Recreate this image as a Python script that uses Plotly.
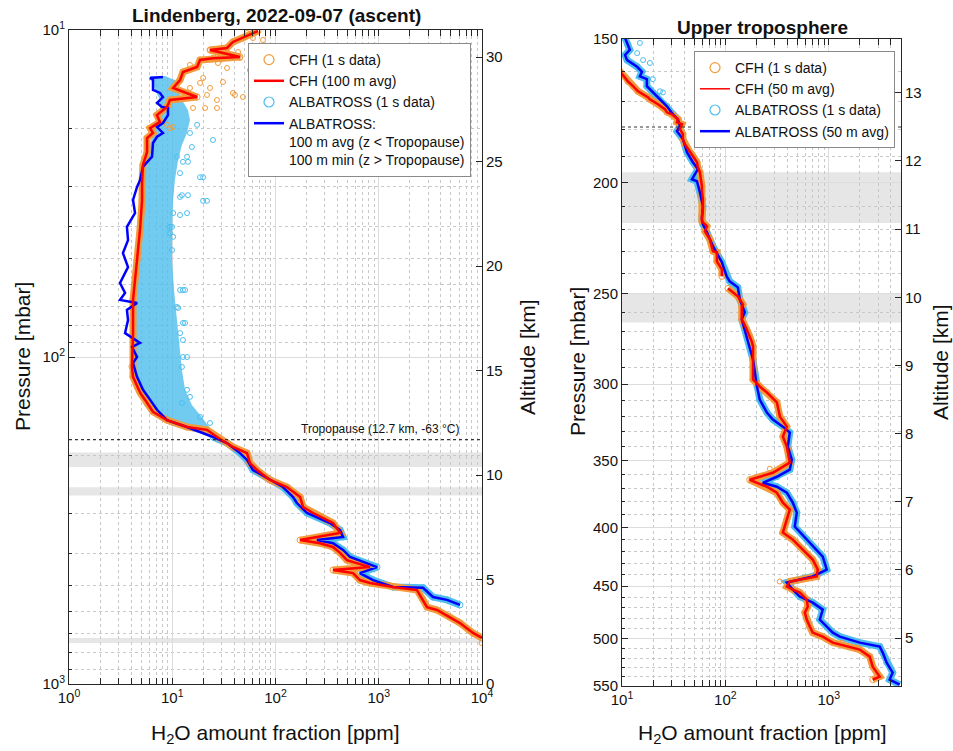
import math
import plotly.graph_objects as go

# ---------------- DATA: left panel (full ascent) ----------------
# CFH 100 m average: pressure [mbar], H2O [ppm]
cfh_avg_p = [10.07, 10.58, 10.88, 11.35, 11.51, 12.09, 12.2, 12.35, 12.98, 13.44, 14.22, 15.04,
             16.03, 16.37, 17.19, 18.2, 19.1, 19.95, 20.65, 21.4, 23.6, 25.9, 29.2, 33.1, 40.0,
             50.5, 59.4, 66.9, 84.5, 107, 115, 123.6, 128.8, 138, 147, 156, 163.7, 167, 175.6,
             188.4, 196.7, 211, 221.6, 237.8, 249.8, 268, 287.7, 300, 322, 345, 363, 371, 381,
             397, 418, 439, 448, 458, 481, 491, 505, 516, 553, 582, 594, 624, 651, 698, 723]
cfh_avg_v = [67.7, 48.4, 38.7, 33.9, 23.2, 45.3, 24.8, 18.6, 17.4, 12.7, 11.9, 10.2,
             17.4, 9.5, 8.9, 7.1, 7.6, 6.1, 6.5, 5.7, 5.7, 5.2, 5.1, 5.1, 4.9,
             4.56, 4.36, 4.17, 4.17, 4.07, 4.17, 4.6, 4.9, 5.7, 6.5, 8.9, 13.9, 21.7, 27.1,
             38.7, 53, 56.6, 66.2, 88.5, 129, 173, 185, 231, 361, 422, 173, 270, 361,
             422, 492, 822, 361, 563, 658, 822, 1374, 2345, 2684, 2931, 3664, 4898, 6119, 8180, 10000]

# ALBATROSS: 100 m min above / 100 m avg below the tropopause
alb_line_p = [13.92, 14.02, 14.22, 15.26, 15.58, 16.03, 16.72, 17.2, 17.32, 18.2, 19.25, 19.8,
              20.65, 21.2, 22.16, 24.4, 26.2, 28.8, 30.2, 33.1, 36.3, 40.0, 43.9, 48.1, 53.1,
              59.4, 63.7, 66.9, 68.4, 71.8, 77.1, 84.5, 90.6, 93.2, 100, 104.3, 115, 126, 135,
              145, 156, 163.7, 175.6, 183.2, 196.7, 206.5, 221.6, 237.8, 249.8, 268, 279.6, 300,
              322, 338, 355, 363, 371, 389, 409, 439, 458, 481, 505, 508, 542, 553, 573]
alb_line_v = [8.13, 6.09, 6.51, 6.51, 7.61, 8.13, 7.12, 7.96, 9.09, 9.09, 8.13, 7.12,
              8.13, 7.12, 6.51, 6.37, 5.21, 4.87, 4.56, 4.17, 4.36, 3.64, 3.73, 3.33, 3.73,
              3.12, 3.49, 3.12, 4.56, 3.64, 3.73, 3.49, 4.87, 4.08, 4.56, 4.17, 4.56, 5.21, 6.09,
              7.12, 8.9, 13.9, 24.8, 33.9, 45.3, 53, 60.5, 88.5, 118, 148, 161, 202,
              337, 422, 451, 252, 361, 451, 527, 962, 658, 880, 1374, 2684, 3352, 4583, 6119]

# ALBATROSS 1 s data: dense stratospheric cloud (left / right edge) and scattered points
cloud_p = [13.82, 14.22, 15.26, 16.37, 17.56, 18.84, 20.65, 22.47, 24.98, 28.8, 33.1, 40.9,
           50.5, 62.4, 77.1, 95.2, 109.6, 126, 140.3, 150.4, 161.4, 169.6, 175.6]
cloud_lo = [6.09, 6.37, 6.81, 7.61, 7.61, 7.28, 6.51, 6.09, 5.7, 5.33, 5.1, 4.87,
            4.66, 4.56, 4.36, 4.26, 4.26, 4.56, 5.33, 6.51, 9.5, 16.6, 24.8]
cloud_hi = [8.51, 10.6, 11.4, 12.4, 14.2, 14.85, 13.9, 12.4, 11.4, 10.6, 10.2, 9.95,
            9.95, 10.4, 11.1, 11.9, 12.4, 13.3, 15.5, 18.6, 22.2, 24.8, 25.9]
alb_pts_p = [21.7, 28.2, 28.2, 27.4, 25.3, 25.3, 32.0, 32.0, 33.3, 33.3, 36.3, 36.3, 36.8, 40.0,
             42.9, 47.1, 62.4, 62.4, 70.3, 78.7, 84.5, 88.7, 100, 19.5, 20.65, 22.8, 24.4, 24.4,
             32.4, 40, 41.8, 62.4, 70.8, 78.7, 100, 107.3, 126, 132.4, 138.2, 152.6, 159.2]
alb_pts_v = [24.8, 18.6, 19.9, 11.9, 12.7, 14.2, 12.4, 14.2, 19.9, 21.7, 10.2, 13.9, 11.9, 9.5,
             10.2, 9.95, 12.7, 11.9, 11.1, 12.7, 11.9, 12.7, 12.7, 17.4, 14.85, 15.5, 13.9, 11.1,
             11.9, 9.95, 9.5, 13.3, 11.4, 13.3, 13.9, 12.4, 13.9, 14.85, 12.4, 18.6, 23.2]

# CFH 1 s data: scattered points in the upper stratosphere
cfh_pts_p = [10.73, 10.58, 10.21, 11.51, 11.68, 12.18, 12.18, 11.51, 11.93, 13.07, 12.62, 13.26,
             14.02, 14.52, 15.04, 15.58, 15.8, 16.03, 15.8, 16.37, 17.32, 17.32, 17.32, 15.04,
             15.8, 19.5, 19.95, 14.42, 12.79, 13.26, 19.8, 749]
cfh_pts_v = [75.7, 60.5, 53, 66.2, 43.4, 36.3, 45.3, 23.2, 27.7, 33.9, 27.7, 59.2,
             19.9, 18.6, 23.2, 38.7, 40.5, 48.4, 21.7, 27.1, 27.1, 20.8, 15.9, 14.85,
             13.9, 8.9, 9.5, 31.0, 14.85, 56.6, 10.2, 9900]

# ---------------- DATA: right panel (upper troposphere) ----------------
ut_cfh_p = [160, 163.3, 164.9, 166.6, 168.6, 169.3, 171.0, 172.7, 173.8, 174.5, 176.2, 177.3,
            178.0, 179.8, 181.6, 183.4, 185.3, 188.3, 189.1, 192.1, 194.1, 196.0, 201.6, 203.6,
            207.0, 211.2, 214.1, 216.3, 218.5, 220.7, 224.3, 229.7, 230.2, 234.4, 238.2, 241.6,
            None,
            247.5, 251.5, 255.6, 256.6, 263.4, 264.5, 268.8, 272.6, 275.4, 278.1, 282.6, 289.5,
            297.2, 301.4, 305.0, 311.2, 320.2, 326.7, 333.3, 340.1, 351.2, 358.4, 363.5, 365.7,
            368.6, 373.1, 380.6, 386.0, 393.8, 404.2, 409.9, 418.2, 426.7, 435.3, 441.4, 445.9,
            450.4, 453.2, 455.9, 462.4, 468.9, 474.6, 481.3, 488.1, 494.1, 498.1, 504.1, 511.2,
            518.5, 529.0, 535.4, 539.7, 543.0]
ut_cfh_v = [9.5, 11.4, 12.8, 14.3, 17.8, 18.6, 22.3, 26.0, 27.2, 30.4, 34.7, 34.0,
            38.0, 36.3, 38.8, 38.8, 40.6, 45.4, 47.5, 53.1, 54.2, 56.7, 59.3, 59.3,
            60.6, 60.6, 59.3, 59.3, 66.3, 63.4, 70.8, 75.8, 82.8, 82.8, 92.6, 92.6,
            None,
            106, 132, 148, 144, 144, 148, 161, 172, 180, 185, 185, 185,
            185, 215, 252, 315, 337, 393, 360, 393, 420, 288, 172, 202,
            252, 315, 360, 420, 393, 360, 449, 561, 700, 783, 765, 420,
            393, 449, 525, 613, 627, 587, 613, 655, 700, 875, 1094, 1994,
            2490, 2663, 2911, 3111, 2663]

ut_alb_p = [149.7, 151.8, 153.3, 154.9, 156.5, 158.6, 160.2, 161.7, 162.6, 164.9, 168.3, 171.7,
            174.5, 176.2, 178.7, 180.5, 183.4, 188.3, 192.1, 194.8, 198.8, 199.6, 204.1, 209.9,
            215.4, 217.6, 221.1, 227.4, 234.9, 241.6, 244.0, 247.0, 253.1, 259.7, 263.4, 268.8,
            278.1, 285.5, 293.0, 301.4, 309.4, 317.6, 322.1, 326.7, 330.6, 340.1, 349.1, 356.2,
            361.3, 365.7, 368.6, 373.1, 380.6, 388.3, 399.4, 409.9, 415.7, 424.1, 435.3, 441.4,
            446.8, 453.2, 459.6, 465.2, 471.8, 481.3, 488.1, 494.1, 498.1, 504.1, 508.1, 514.3,
            524.8, 535.4, 543.0, 548.5]
ut_alb_v = [10.7, 11.4, 11.9, 10.7, 11.2, 14.0, 15.6, 14.9, 17.4, 17.4, 21.8, 27.2,
            31.1, 34.7, 36.3, 34.0, 38.8, 42.5, 48.5, 54.2, 47.5, 53.1, 56.7, 60.6,
            59.3, 60.6, 66.3, 75.8, 92.6, 103, 110, 132, 138, 154, 144, 154,
            172, 185, 193, 202, 215, 252, 288, 360, 420, 402, 439, 420,
            315, 230, 315, 393, 449, 491, 469, 613, 700, 875, 957, 700,
            393, 449, 525, 700, 875, 819, 957, 1094, 1278, 1994, 3111, 3327,
            3634, 4153, 3884, 4853]

ut_alb_pts_p = [151.2, 154.3, 156.5, 157.4, 159.6, 162.6, 166.6, 167.0]
ut_alb_pts_v = [14.9, 14.0, 16.0, 18.6, 14.9, 19.9, 23.3, 24.9]
ut_cfh_pts_p = [355.5, 504.1, 509, 509, 445.9]
ut_cfh_pts_v = [269, 1336, 1596, 1906, 336]

# shaded pressure layers [mbar] and tropopause
bands = [(196, 217), (250, 265), (723, 749)]
tropopause_p = 179

# tick labels
left_x_ticks = [1, 10, 100, 1000, 10000]
left_x_text = ["10<sup>0</sup>", "10<sup>1</sup>", "10<sup>2</sup>", "10<sup>3</sup>", "10<sup>4</sup>"]
left_y_ticks = [10, 100, 1000]
left_y_text = ["10<sup>1</sup>", "10<sup>2</sup>", "10<sup>3</sup>"]
right_x_ticks = [10, 100, 1000]
right_x_text = ["10<sup>1</sup>", "10<sup>2</sup>", "10<sup>3</sup>"]
right_y_ticks = [150, 200, 250, 300, 350, 400, 450, 500, 550]
alt_left_ticks = [0, 5, 10, 15, 20, 25, 30]
alt_right_ticks = [5, 6, 7, 8, 9, 10, 11, 12, 13]

# ---------------- STYLE ----------------
ORANGE = "#F39A3B"
LBLUE = "#4DBEEE"
RED = "#FF0000"
BLUE = "#0000FF"
AXC = "#262626"
GRID = "#dcdcdc"
MGRID = "#c8c8c8"
FONT = "Liberation Sans"
W, H = 953, 751

fig = go.Figure()

# ---- left panel traces ----
fig.add_trace(go.Scatter(x=cloud_lo + cloud_hi[::-1], y=cloud_p + cloud_p[::-1], fill="toself",
                         fillcolor="rgba(77,190,238,0.8)", line=dict(width=0), mode="lines",
                         hoverinfo="skip", showlegend=False, xaxis="x", yaxis="y"))
fig.add_trace(go.Scatter(x=alb_pts_v, y=alb_pts_p, mode="markers",
                         marker=dict(symbol="circle-open", size=5, color=LBLUE, line=dict(width=1)),
                         showlegend=False, xaxis="x", yaxis="y"))
trop_idx = [i for i, p in enumerate(alb_line_p) if p >= 170]
fig.add_trace(go.Scatter(x=[alb_line_v[i] for i in trop_idx], y=[alb_line_p[i] for i in trop_idx],
                         mode="lines+markers", line=dict(color=LBLUE, width=7),
                         marker=dict(symbol="circle-open", size=6, color=LBLUE),
                         showlegend=False, xaxis="x", yaxis="y"))
fig.add_trace(go.Scatter(x=cfh_avg_v, y=cfh_avg_p, mode="lines+markers",
                         line=dict(color=ORANGE, width=7),
                         marker=dict(symbol="circle-open", size=6, color=ORANGE),
                         showlegend=False, xaxis="x", yaxis="y"))
fig.add_trace(go.Scatter(x=cfh_pts_v, y=cfh_pts_p, mode="markers",
                         marker=dict(symbol="circle-open", size=5, color=ORANGE, line=dict(width=1)),
                         showlegend=False, xaxis="x", yaxis="y"))
fig.add_trace(go.Scatter(x=alb_line_v, y=alb_line_p, mode="lines", line=dict(color=BLUE, width=2.5),
                         showlegend=False, xaxis="x", yaxis="y"))
fig.add_trace(go.Scatter(x=cfh_avg_v, y=cfh_avg_p, mode="lines", line=dict(color=RED, width=2.5),
                         showlegend=False, xaxis="x", yaxis="y"))

# ---- right panel traces ----
fig.add_trace(go.Scatter(x=ut_alb_v, y=ut_alb_p, mode="lines+markers", line=dict(color=LBLUE, width=7),
                         marker=dict(symbol="circle-open", size=6, color=LBLUE),
                         showlegend=False, xaxis="x2", yaxis="y2"))
fig.add_trace(go.Scatter(x=ut_alb_pts_v, y=ut_alb_pts_p, mode="markers",
                         marker=dict(symbol="circle-open", size=5, color=LBLUE, line=dict(width=1)),
                         showlegend=False, xaxis="x2", yaxis="y2"))
fig.add_trace(go.Scatter(x=ut_cfh_v, y=ut_cfh_p, mode="lines+markers", line=dict(color=ORANGE, width=7),
                         marker=dict(symbol="circle-open", size=6, color=ORANGE),
                         showlegend=False, xaxis="x2", yaxis="y2"))
fig.add_trace(go.Scatter(x=ut_cfh_pts_v, y=ut_cfh_pts_p, mode="markers",
                         marker=dict(symbol="circle-open", size=5, color=ORANGE, line=dict(width=1)),
                         showlegend=False, xaxis="x2", yaxis="y2"))
fig.add_trace(go.Scatter(x=ut_alb_v, y=ut_alb_p, mode="lines", line=dict(color=BLUE, width=2.5),
                         showlegend=False, xaxis="x2", yaxis="y2"))
fig.add_trace(go.Scatter(x=ut_cfh_v, y=ut_cfh_p, mode="lines", line=dict(color=RED, width=2.5),
                         showlegend=False, xaxis="x2", yaxis="y2"))

# empty traces so that the altitude axes are drawn
fig.add_trace(go.Scatter(x=[None], y=[None], showlegend=False, xaxis="x", yaxis="y3"))
fig.add_trace(go.Scatter(x=[None], y=[None], showlegend=False, xaxis="x2", yaxis="y4"))

# ---- legend entries ----
def leg_marker(name, color, legend, xa, ya):
    fig.add_trace(go.Scatter(x=[None], y=[None], mode="markers", name=name, legend=legend,
                             marker=dict(symbol="circle-open", size=10, color=color, line=dict(width=1.2)),
                             xaxis=xa, yaxis=ya))

def leg_line(name, color, legend, xa, ya, w):
    fig.add_trace(go.Scatter(x=[None], y=[None], mode="lines", name=name, legend=legend,
                             line=dict(color=color, width=w), xaxis=xa, yaxis=ya))

leg_marker("CFH (1 s data)", ORANGE, "legend", "x", "y")
leg_line("CFH (100 m avg)", RED, "legend", "x", "y", 2.5)
leg_marker("ALBATROSS (1 s data)", LBLUE, "legend", "x", "y")
leg_line("ALBATROSS:<br>100 m avg (z &lt; Tropopause)<br>100 m min (z &gt; Tropopause)", BLUE,
         "legend", "x", "y", 2.5)
leg_marker("CFH (1 s data)", ORANGE, "legend2", "x2", "y2")
leg_line("CFH (50 m avg)", RED, "legend2", "x2", "y2", 1.5)
leg_marker("ALBATROSS (1 s data)", LBLUE, "legend2", "x2", "y2")
leg_line("ALBATROSS (50 m avg)", BLUE, "legend2", "x2", "y2", 2.5)

# ---- shapes ----
shapes = []
for p0, p1 in bands:
    shapes.append(dict(type="rect", xref="x domain", yref="y", x0=0, x1=1, y0=p0, y1=p1,
                       fillcolor="#e6e6e6", line=dict(width=0), layer="below"))
    if p1 <= 550:
        shapes.append(dict(type="rect", xref="x2 domain", yref="y2", x0=0, x1=1, y0=p0, y1=p1,
                           fillcolor="#e6e6e6", line=dict(width=0), layer="below"))
for xr, yr in [("x domain", "y"), ("x2 domain", "y2")]:
    shapes.append(dict(type="line", xref=xr, yref=yr, x0=0, x1=1, y0=tropopause_p, y1=tropopause_p,
                       line=dict(color="#333333", width=1.2, dash="dot")))

# ---- axes ----
def minor_log(lo_dec, hi_dec, maxv=None):
    vals = []
    for d in range(lo_dec, hi_dec):
        for m in range(2, 10):
            v = m * 10 ** d
            if maxv is None or v <= maxv:
                vals.append(v)
    return vals

tickfont = dict(family=FONT, size=15, color="#111")
common = dict(showline=True, linecolor=AXC, linewidth=1, ticks="inside", ticklen=6, tickcolor=AXC,
              showgrid=True, gridcolor=GRID, gridwidth=1, zeroline=False, tickfont=tickfont,
              automargin=False)
minor_common = dict(ticks="inside", ticklen=3, tickcolor=AXC, showgrid=True, gridcolor=MGRID,
                    griddash="dot", gridwidth=1, tickmode="array")
alt_common = dict(showline=True, linecolor=AXC, ticks="inside", ticklen=6, tickcolor=AXC,
                  showgrid=False, zeroline=False, tickfont=tickfont, automargin=False,
                  tickmode="array")

xd1 = [69 / W, 482 / W]
yd1 = [1 - 684 / H, 1 - 30 / H]
xd2 = [622 / W, 901 / W]
yd2 = [1 - 686 / H, 1 - 39 / H]

legfont = dict(family=FONT, size=14, color="#111")
fig.update_layout(
    xaxis=dict(type="log", range=[0, 4], domain=xd1, anchor="y", mirror="allticks",
               tickmode="array", tickvals=left_x_ticks, ticktext=left_x_text,
               minor=dict(tickvals=minor_log(0, 4), **minor_common), **common),
    yaxis=dict(type="log", range=[3, 1], domain=yd1, anchor="x",
               tickmode="array", tickvals=left_y_ticks, ticktext=left_y_text,
               minor=dict(tickvals=minor_log(1, 3), **minor_common), **common),
    yaxis3=dict(overlaying="y", side="right", anchor="x", range=[0, 31.3],
                tickvals=alt_left_ticks, **alt_common),
    xaxis2=dict(type="log", range=[1, math.log10(5000)], domain=xd2, anchor="y2", mirror="allticks",
                tickmode="array", tickvals=right_x_ticks, ticktext=right_x_text,
                minor=dict(tickvals=minor_log(1, 4, 5000), **minor_common), **common),
    yaxis2=dict(type="log", range=[math.log10(550), math.log10(150)], domain=yd2, anchor="x2",
                tickmode="array", tickvals=right_y_ticks,
                minor=dict(tickvals=[v for v in range(160, 550, 10) if v % 50 != 0], **minor_common),
                **common),
    yaxis4=dict(overlaying="y2", side="right", anchor="x2", range=[4.296, 13.79],
                tickvals=alt_right_ticks, **alt_common),
    legend=dict(x=248 / W, y=1 - 43 / H, xanchor="left", yanchor="top", bgcolor="white",
                bordercolor="#8a8a8a", borderwidth=1, font=legfont,
                valign="top", tracegroupgap=0),
    legend2=dict(x=694 / W, y=1 - 51 / H, xanchor="left", yanchor="top", bgcolor="white",
                 bordercolor="#8a8a8a", borderwidth=1, font=legfont,
                 tracegroupgap=0),
    shapes=shapes,
    width=W, height=H,
    margin=dict(l=0, r=0, t=0, b=0, pad=0, autoexpand=False),
    paper_bgcolor="white", plot_bgcolor="white",
    font=dict(family=FONT, color="#111"),
)

ann = []
def txt(x, y, s, size, angle=0, bold=False):
    ann.append(dict(x=x / W, y=1 - y / H, xref="paper", yref="paper", xanchor="center", yanchor="middle",
                    text=("<b>%s</b>" % s) if bold else s,
                    showarrow=False, textangle=angle, font=dict(family=FONT, size=size, color="#111")))

txt(276, 15, "Lindenberg, 2022-09-07 (ascent)", 19, bold=True)
txt(762, 27, "Upper troposphere", 19, bold=True)
txt(22, 357, "Pressure [mbar]", 21, angle=-90)
txt(527, 357, "Altitude [km]", 21, angle=-90)
txt(577, 362, "Pressure [mbar]", 21, angle=-90)
txt(940, 362, "Altitude [km]", 21, angle=-90)
txt(275, 734, "H<sub>2</sub>O amount fraction [ppm]", 21)
txt(762, 734, "H<sub>2</sub>O amount fraction [ppm]", 21)
ann.append(dict(x=0.95, y=math.log10(tropopause_p), xref="x domain", yref="y", xanchor="right",
                yanchor="bottom", yshift=2, showarrow=False, text="Tropopause (12.7 km, -63 °C)",
                font=dict(family=FONT, size=12, color="#111")))
fig.update_layout(annotations=ann)

fig.write_html("out.html", config={"displayModeBar": False},
               post_script="document.body.style.margin='0';document.body.style.overflow='hidden';")
